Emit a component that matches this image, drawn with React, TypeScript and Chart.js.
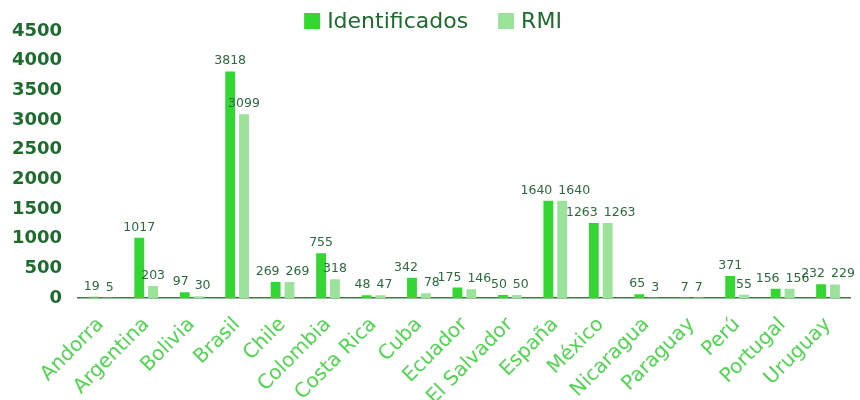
import React, { useEffect, useRef } from "react";
import { Chart, registerables } from "chart.js";

Chart.register(...registerables);

const categories = [
  "Andorra", "Argentina", "Bolivia", "Brasil", "Chile", "Colombia", "Costa Rica",
  "Cuba", "Ecuador", "El Salvador", "España", "México", "Nicaragua", "Paraguay",
  "Perú", "Portugal", "Uruguay",
];
const identificados = [19, 1017, 97, 3818, 269, 755, 48, 342, 175, 50, 1640, 1263, 65, 7, 371, 156, 232];
const rmi = [5, 203, 30, 3099, 269, 318, 47, 78, 146, 50, 1640, 1263, 3, 7, 55, 156, 229];
const seriesNames = ["Identificados", "RMI"];
const yTicksMax = 4500;
const yStep = 500;

const DARK = "#1e6b2e";
const LABEL_DARK = "#2d6a3e";
const X_LABEL = "#4fd64f";
const COLORS = ["#33d633", "#9be29b"];
const LEGEND_FONT = "22px 'DejaVu Sans'";

const dataLabels = {
  id: "dataLabels",
  afterDatasetsDraw(chart: any) {
    const ctx = chart.ctx;
    ctx.save();
    ctx.font = "12.5px 'DejaVu Sans'";
    ctx.fillStyle = LABEL_DARK;
    ctx.textAlign = "center";
    ctx.textBaseline = "bottom";
    const m0 = chart.getDatasetMeta(0).data;
    const m1 = chart.getDatasetMeta(1).data;
    const d0 = chart.data.datasets[0].data;
    const d1 = chart.data.datasets[1].data;
    const th = 13;
    for (let j = 0; j < m0.length; j++) {
      const t0 = String(d0[j]);
      const t1 = String(d1[j]);
      const w0 = ctx.measureText(t0).width;
      const w1 = ctx.measureText(t1).width;
      let x0 = m0[j].x;
      let x1 = m1[j].x;
      const y0 = m0[j].y - 4;
      const y1 = m1[j].y - 4;
      if (Math.abs(y0 - y1) < th + 4) {
        const need = (w0 + w1) / 2 + 6;
        const have = x1 - x0;
        if (have < need) {
          const d = (need - have) / 2;
          x0 -= d;
          x1 += d;
        }
      }
      ctx.fillText(t0, x0, y0);
      ctx.fillText(t1, x1, y1);
    }
    ctx.restore();
  },
};

const customLegend = {
  id: "customLegend",
  afterDraw(chart: any) {
    const ctx = chart.ctx;
    ctx.save();
    ctx.font = LEGEND_FONT;
    const box = 16;
    const gapText = 7;
    const gapItem = 30;
    const widths = seriesNames.map((n) => ctx.measureText(n).width);
    const total = widths.reduce((a, w) => a + box + gapText + w, 0) + gapItem * (seriesNames.length - 1);
    let x = chart.width / 2 - total / 2 + 3;
    const cy = 21;
    ctx.textBaseline = "middle";
    ctx.textAlign = "left";
    seriesNames.forEach((n, i) => {
      ctx.fillStyle = COLORS[i];
      ctx.fillRect(x, cy - 8, box, box);
      x += box + gapText;
      ctx.fillStyle = DARK;
      ctx.fillText(n, x, cy + 1);
      x += widths[i] + gapItem;
    });
    ctx.restore();
  },
};

export default function App() {
  const ref = useRef<HTMLCanvasElement | null>(null);
  useEffect(() => {
    document.body.style.margin = "0";
    const chart = new Chart(ref.current!, {
      type: "bar",
      data: {
        labels: categories,
        datasets: [
          { label: seriesNames[0], data: identificados, backgroundColor: COLORS[0] },
          { label: seriesNames[1], data: rmi, backgroundColor: COLORS[1] },
        ],
      },
      options: {
        animation: false,
        responsive: true,
        maintainAspectRatio: false,
        layout: { padding: { top: 31, right: 0, left: 0, bottom: 0 } },
        datasets: { bar: { categoryPercentage: 0.61, barPercentage: 0.71 } },
        plugins: {
          legend: { display: false },
          tooltip: { enabled: false },
        },
        scales: {
          x: {
            grid: { display: false, drawTicks: false },
            border: { display: true, color: "#3a7d46", width: 1.5 },
            ticks: {
              color: X_LABEL,
              minRotation: 45,
              maxRotation: 45,
              padding: 15,
              font: { family: "DejaVu Sans", size: 20, weight: "normal" },
            },
            afterFit(scale: any) { scale.height = 102; },
          },
          y: {
            min: 0,
            max: yTicksMax,
            grid: { display: false, drawTicks: false },
            border: { display: false },
            ticks: {
              stepSize: yStep,
              color: DARK,
              padding: 16,
              font: { family: "DejaVu Sans", size: 18, weight: "bold" },
              callback: (v: any) => String(v),
            },
            afterFit(scale: any) { scale.width = 78; },
          },
        },
      },
      plugins: [dataLabels, customLegend],
    });
    return () => chart.destroy();
  }, []);
  return (
    <div style={{ position: "relative", width: 860, height: 400 }}>
      <canvas ref={ref} />
    </div>
  );
}
